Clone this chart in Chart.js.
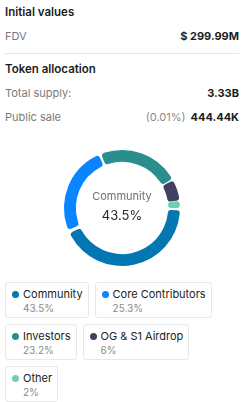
<!DOCTYPE html>
<html>
<head>
<meta charset="utf-8">
<script src="https://cdn.jsdelivr.net/npm/chart.js@4"></script>
<style>
  body { margin: 0; padding: 0 7px 0 5px; width: 234px; font-family: Inter, sans-serif; color: #1c1c1c; background: #fff; }
  .h { font-size: 11.5px; font-weight: 600; height: 24px; line-height: 24px; }
  .row { display: flex; justify-content: space-between; font-size: 11px; height: 24px; line-height: 24px; color: #7a7a7a; }
  .row b { color: #1c1c1c; font-weight: 700; }
  .row .sub { color: #8a8a8a; margin-right: 5px; }
  hr { border: 0; border-top: 1px solid #e6e6e6; margin: 5px 0 3px 0; }
  #wrap { position: relative; height: 130px; margin-top: 14px; }
  #legend { display: flex; flex-wrap: wrap; gap: 6px 6px; margin-top: 9px; }
  .item { border: 1px solid #e8e8e8; border-radius: 3px; padding: 4px 5px 3px 6px; }
  .item .l { font-size: 11px; line-height: 14px; color: #222; display: flex; align-items: center; }
  .item .dot { width: 7px; height: 7px; border-radius: 50%; margin-right: 4px; }
  .item .p { font-size: 10px; line-height: 12px; color: #8a8a8a; padding-left: 11px; margin-top: 1px; }
</style>
</head>
<body>
<div class="h" style="margin-top:0">Initial values</div>
<div class="row"><span>FDV</span><b>$ 299.99M</b></div>
<hr>
<div class="h">Token allocation</div>
<div class="row"><span>Total supply:</span><b>3.33B</b></div>
<div class="row"><span>Public sale</span><span><span class="sub">(0.01%)</span><b>444.44K</b></span></div>
<div id="wrap"><canvas id="allocChart"></canvas></div>
<div id="legend"></div>
<script>
var labels = ['Community', 'Core Contributors', 'Investors', 'OG & S1 Airdrop', 'Other'];
var shares = [43.5, 25.3, 23.2, 6, 2];
var colors = ['#0277b1', '#0a84ff', '#2a8f8c', '#3e4260', '#6fd0ad'];

var centerText = {
    id: 'centerText',
    afterDraw: function (chart) {
        var ctx = chart.ctx;
        var m = chart.getDatasetMeta(0).data[0];
        ctx.save();
        ctx.textAlign = 'center';
        ctx.textBaseline = 'middle';
        ctx.fillStyle = '#6e6e6e';
        ctx.font = '11px Inter';
        ctx.fillText(labels[0], m.x, m.y - 11);
        ctx.fillStyle = '#2a2a2a';
        ctx.font = '13px Inter';
        ctx.fillText(shares[0] + '%', m.x, m.y + 8);
        ctx.restore();
    }
};

var ctx = document.getElementById('allocChart').getContext('2d');
var allocChart = new Chart(ctx, {
    type: 'doughnut',
    data: {
        labels: labels,
        datasets: [{
            data: shares,
            backgroundColor: colors,
            borderWidth: 0,
            borderRadius: 3,
            spacing: 3,
            hoverOffset: 0
        }]
    },
    options: {
        maintainAspectRatio: false,
        animation: false,
        rotation: 90,
        radius: 56.5,
        cutout: '79%',
        plugins: {
            legend: { display: false },
            tooltip: { enabled: false }
        }
    },
    plugins: [centerText]
});

var lg = document.getElementById('legend');
labels.forEach(function (name, i) {
    var d = document.createElement('div');
    d.className = 'item';
    d.innerHTML = '<div class="l"><span class="dot" style="background:' + colors[i] + '"></span>' + name + '</div>' +
        '<div class="p">' + shares[i] + '%</div>';
    lg.appendChild(d);
});
</script>
</body>
</html>
